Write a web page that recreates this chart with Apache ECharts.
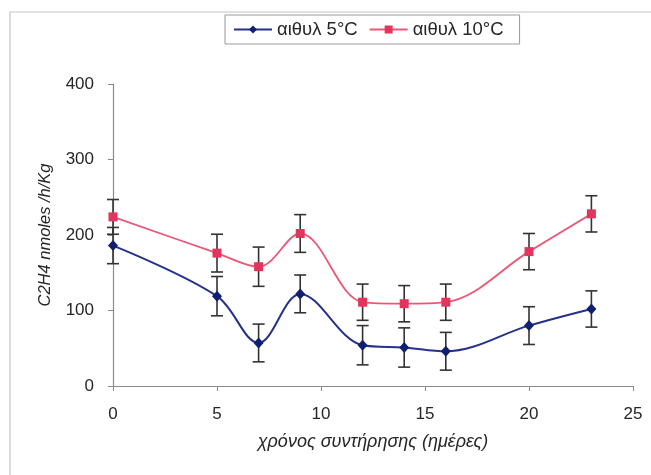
<!DOCTYPE html>
<html>
<head>
<meta charset="utf-8">
<script src="https://cdn.jsdelivr.net/npm/echarts@6/dist/echarts.min.js"></script>
<style>
  html, body { margin: 0; padding: 0; background: #ffffff; }
  #chart { width: 651px; height: 475px; }
</style>
</head>
<body>
<div id="chart"></div>
<script>
// Storage days and ethylene production (nmoles/h/Kg) with error margins
const days = [0, 5, 7, 9, 12, 14, 16, 20, 23];
const eth5 = [186, 119, 57, 122, 54, 51, 46, 80, 102];
const err5 = [24, 26, 25, 25, 26, 26, 25, 25, 24];
const eth10 = [224, 176, 158, 202, 111, 109, 111, 178, 228];
const err10 = [23, 25, 26, 25, 24, 24, 24, 24, 24];
const seriesNames = ['αιθυλ 5°C', 'αιθυλ 10°C'];
const xTicks = [0, 5, 10, 15, 20, 25];
const yTicks = [0, 100, 200, 300, 400];

const FONT = '"Liberation Sans", Arial, sans-serif';
const TEXT = '#262626';
const BLUE_LINE = '#26318c';
const BLUE_MARK = '#10206e';
const RED_LINE = '#ea5876';
const RED_MARK = '#e2345c';

function pairs(xs, ys) { return xs.map((x, i) => [x, ys[i]]); }
function ranges(xs, ys, es) { return xs.map((x, i) => [x, ys[i] - es[i], ys[i] + es[i]]); }

function errorBar(params, api) {
  const x = api.value(0);
  const lo = api.coord([x, api.value(1)]);
  const hi = api.coord([x, api.value(2)]);
  const hw = 6;
  const st = { stroke: '#333333', lineWidth: 1.6 };
  return {
    type: 'group',
    children: [
      { type: 'line', shape: { x1: lo[0], y1: lo[1], x2: hi[0], y2: hi[1] }, style: st },
      { type: 'line', shape: { x1: lo[0] - hw, y1: lo[1], x2: lo[0] + hw, y2: lo[1] }, style: st },
      { type: 'line', shape: { x1: hi[0] - hw, y1: hi[1], x2: hi[0] + hw, y2: hi[1] }, style: st }
    ]
  };
}

const chart = echarts.init(document.getElementById('chart'), null, { renderer: 'canvas' });
chart.setOption({
  backgroundColor: '#ffffff',
  animation: false,
  textStyle: { fontFamily: FONT },
  graphic: [{
    type: 'rect',
    shape: { x: 10, y: 12, width: 700, height: 500 },
    style: { fill: 'none', stroke: '#c4c4c4', lineWidth: 1.2 },
    silent: true
  }],
  legend: {
    data: seriesNames,
    left: 225,
    top: 15,
    padding: [5, 16, 5, 8],
    itemWidth: 38,
    itemHeight: 10,
    itemGap: 11,
    borderColor: '#9a9a9a',
    borderWidth: 1,
    textStyle: { fontFamily: FONT, fontSize: 18.5, color: TEXT }
  },
  grid: { left: 113, right: 18, top: 84, bottom: 89 },
  xAxis: {
    type: 'value',
    min: xTicks[0],
    max: xTicks[xTicks.length - 1],
    interval: 5,
    name: 'χρόνος συντήρησης (ημέρες)',
    nameLocation: 'middle',
    nameGap: 47,
    nameTextStyle: { fontFamily: FONT, fontSize: 18, fontStyle: 'italic', color: TEXT },
    axisLine: { lineStyle: { color: '#8a8a8a', width: 1.2 } },
    axisTick: { show: true, length: 5, inside: false, lineStyle: { color: '#8a8a8a' } },
    axisLabel: { fontFamily: FONT, fontSize: 17, color: TEXT, margin: 20 },
    splitLine: { show: false }
  },
  yAxis: {
    type: 'value',
    min: yTicks[0],
    max: yTicks[yTicks.length - 1],
    interval: 100,
    name: 'C2H4 nmoles /h/Kg',
    nameLocation: 'middle',
    nameGap: 59,
    nameTextStyle: { fontFamily: FONT, fontSize: 16.5, fontStyle: 'italic', color: TEXT },
    axisLine: { show: true, lineStyle: { color: '#8a8a8a', width: 1.2 } },
    axisTick: { show: true, length: 5, inside: false, lineStyle: { color: '#8a8a8a' } },
    axisLabel: { fontFamily: FONT, fontSize: 17, color: TEXT, margin: 19 },
    splitLine: { show: false }
  },
  series: [
    {
      type: 'custom',
      name: 'err5',
      renderItem: errorBar,
      data: ranges(days, eth5, err5),
      z: 1,
      silent: true
    },
    {
      type: 'custom',
      name: 'err10',
      renderItem: errorBar,
      data: ranges(days, eth10, err10),
      z: 1,
      silent: true
    },
    {
      type: 'line',
      name: seriesNames[0],
      data: pairs(days, eth5),
      smooth: 0.35,
      symbol: 'diamond',
      symbolSize: [10, 11],
      lineStyle: { color: BLUE_LINE, width: 2 },
      itemStyle: { color: BLUE_MARK },
      z: 3
    },
    {
      type: 'line',
      name: seriesNames[1],
      data: pairs(days, eth10),
      smooth: 0.35,
      symbol: 'rect',
      symbolSize: 9,
      lineStyle: { color: RED_LINE, width: 1.8 },
      itemStyle: { color: RED_MARK },
      z: 3
    }
  ]
});
</script>
</body>
</html>
